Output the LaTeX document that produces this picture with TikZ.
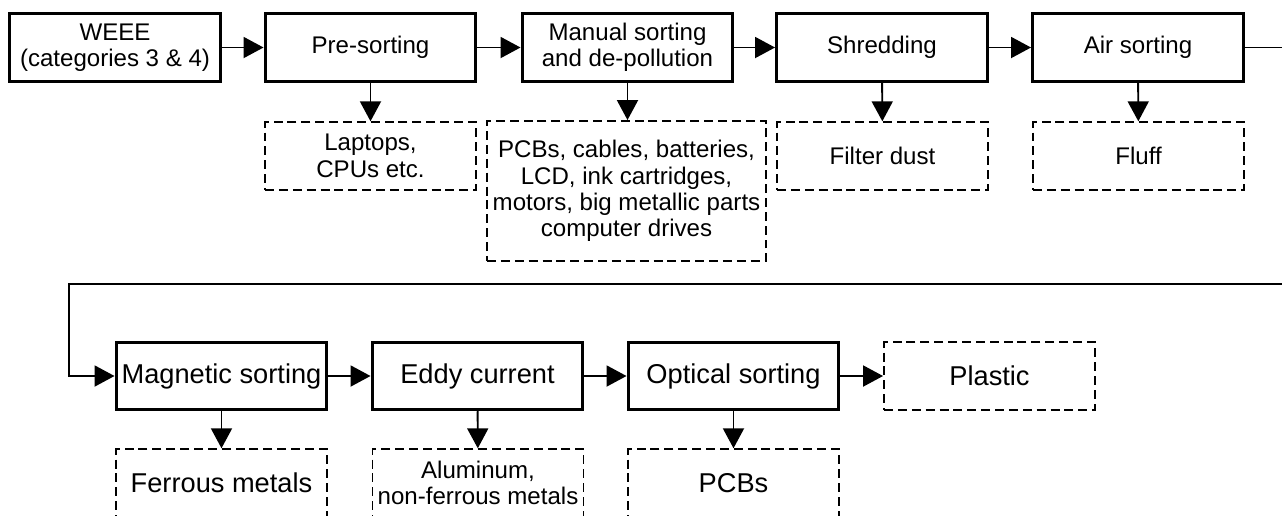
\documentclass[tikz,border=0pt]{standalone}
\usepackage{fontspec}
\setmainfont{Liberation Sans}
\usetikzlibrary{arrows.meta}
\tikzset{
 stage/.style={draw,line width=1.7pt,minimum width=4.22cm,minimum height=1.35cm,inner sep=0pt,align=center,font=\fontsize{13.7pt}{15pt}\selectfont},
 stagebig/.style={stage,font=\fontsize{15.5pt}{18pt}\selectfont},
 output/.style={draw,line width=1.1pt,dash pattern=on 5.1pt off 2.8pt,minimum width=4.22cm,minimum height=1.35cm,inner sep=0pt,align=center,font=\fontsize{13.7pt}{15pt}\selectfont},
 outputbig/.style={output,font=\fontsize{15.5pt}{18pt}\selectfont},
 flow/.style={line width=1.1pt,-{Triangle[length=0.4cm,width=0.42cm]}}
}
\begin{document}
\begin{tikzpicture}[x=0.02cm,y=-0.02cm]
 \useasboundingbox (0,0) rectangle (1282,515);
 \node[stage,minimum width=4.24cm] (weee) at (115,47.5) {WEEE\\(categories 3 \& 4)};
 \node[stage] (pre) at (370.5,47.5) {Pre-sorting};
 \node[stage] (manual) at (627.5,47.5) {Manual sorting\\and de-pollution};
 \node[stage] (shred) at (882,47.5) {Shredding};
 \node[stage] (air) at (1138,47.5) {Air sorting};
 \node[output] (laptops) at (370.5,156) {Laptops,\\CPUs etc.};
 \node[output,minimum width=5.58cm,minimum height=2.8cm] (parts) at (626.5,191) {PCBs, cables, batteries,\\LCD, ink cartridges,\\motors, big metallic parts\\computer drives};
 \node[output] (dust) at (882.5,156) {Filter dust};
 \node[output] (fluff) at (1138.5,156) {Fluff};
 \node[stagebig] (magnetic) at (221.5,376) {Magnetic sorting};
 \node[stagebig] (eddy) at (477.5,376) {Eddy current};
 \node[stagebig] (optical) at (733.5,376) {Optical sorting};
 \node[outputbig] (plastic) at (989.5,376) {Plastic};
 \node[outputbig] (ferrous) at (221.5,483) {Ferrous metals};
 \node[output] (alu) at (478,483) {Aluminum,\\non-ferrous metals};
 \node[outputbig] (pcbs) at (733.5,483) {PCBs};
 \coordinate (turnR) at (1292,284);
 \coordinate (turnL) at (69,284);
 \draw[flow] (weee) -- (pre);
 \draw[flow] (pre) -- (manual);
 \draw[flow] (manual) -- (shred);
 \draw[flow] (shred) -- (air);
 \draw[flow] (pre) -- (laptops);
 \draw[flow] (manual) -- (parts.north -| manual);
 \draw[flow] (shred) -- (dust);
 \draw[flow] (air) -- (fluff);
 \draw[flow] (air.east) -| (turnR) -- (turnL) |- (magnetic.west);
 \draw[flow] (magnetic) -- (eddy);
 \draw[flow] (eddy) -- (optical);
 \draw[flow] (optical) -- (plastic);
 \draw[flow] (magnetic) -- (ferrous);
 \draw[flow] (eddy) -- (alu);
 \draw[flow] (optical) -- (pcbs);
\end{tikzpicture}
\end{document}
